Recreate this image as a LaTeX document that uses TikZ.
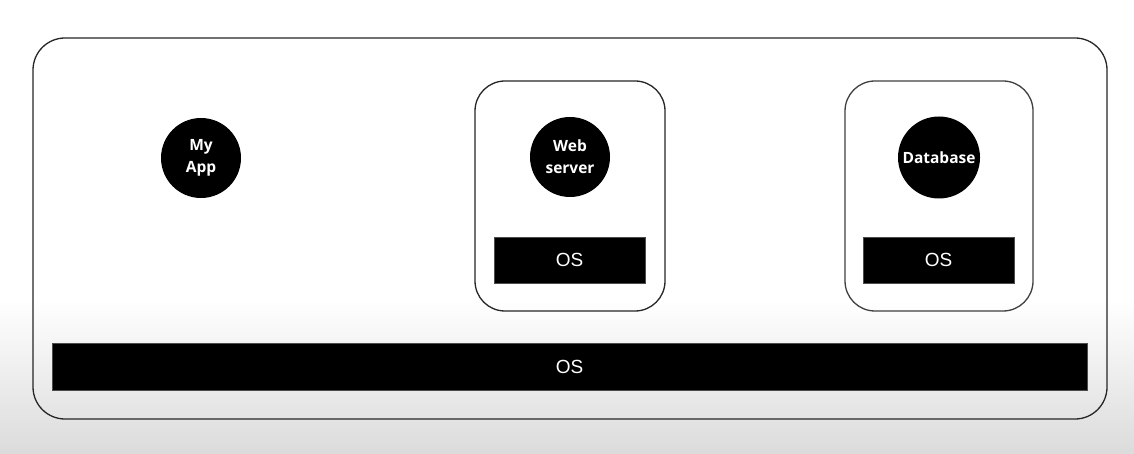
\documentclass[tikz,border=0pt]{standalone}
\usepackage{fontspec}
\setmainfont{Liberation Sans}
\newfontfamily\circfont{Open Sans}
\begin{document}
\begin{tikzpicture}[x=1pt,y=-1pt,
  frame/.style={draw=black!85,line width=1.3pt,rounded corners=30pt,inner sep=0pt,outer sep=0pt},
  osbar/.style={fill=black,draw=black!70,line width=0.6pt,inner sep=0pt,outer sep=0pt,text=white,font=\fontsize{19}{22}\selectfont},
  comp/.style={circle,fill=black,inner sep=0pt,minimum size=80pt,text=white,align=center,font=\circfont\bfseries\fontsize{15.5}{22}\selectfont}
]
\useasboundingbox (0,0) rectangle (1134,454);
\fill[white] (0,0) rectangle (1134,300);
\shade[top color=white,bottom color=black!14] (0,299.5) rectangle (1134,454);
\node[frame,minimum width=1074pt,minimum height=381pt,rounded corners=32pt] (host) at (570,228.5) {};
\node[frame,minimum width=190pt,minimum height=230pt] (webbox) at (570,196) {};
\node[frame,minimum width=188pt,minimum height=230pt,draw=black!75] (dbbox) at (939,196) {};
\node[osbar,minimum width=1035pt,minimum height=47pt] (hostos) at (569.5,366.5) {OS};
\node[osbar,minimum width=151pt,minimum height=46pt] (webos) at (569.5,260) {OS};
\node[osbar,minimum width=151pt,minimum height=46pt] (dbos) at (938.5,260) {OS};
\node[comp] (app) at (201,158) {My\\App};
\node[comp] (web) at (570,157) {Web\\server};
\node[comp,minimum size=82pt] (db) at (939,157.5) {Database};
\end{tikzpicture}
\end{document}
